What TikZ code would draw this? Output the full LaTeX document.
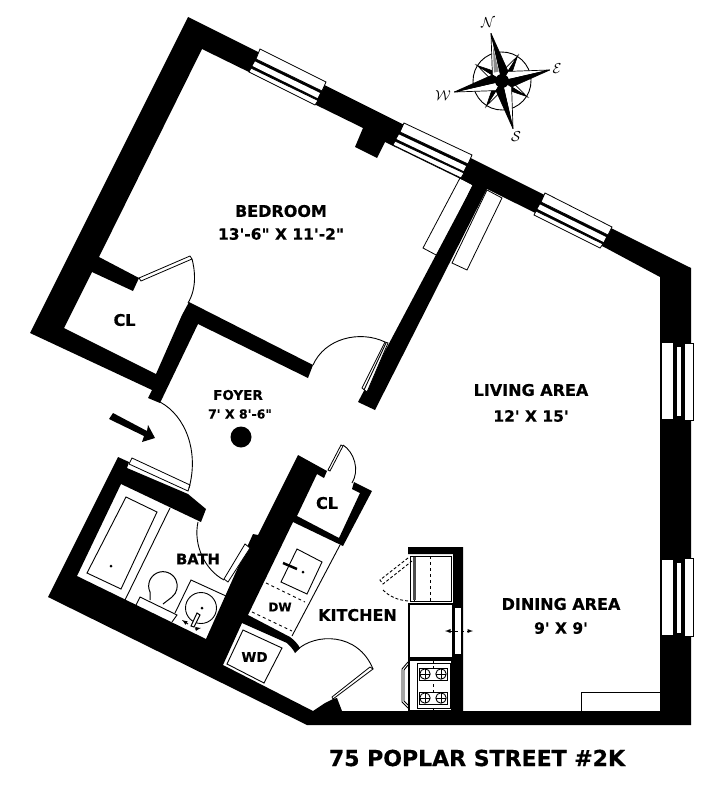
\documentclass[tikz,border=0pt]{standalone}
\usepackage{fontspec}
\usepackage{tikz}
\usetikzlibrary{calc,arrows,positioning}
\newfontfamily\planfont{DejaVu Sans}[BoldFeatures={FakeBold=0.5}]
\tikzset{
	wallblack/.style={fill=black, draw=none},
	glass/.style={fill=white, draw=black, line width=0.8pt},
	pane/.style={fill=white, draw=none},
	plain/.style={draw=black, line width=0.9pt},
	swing/.style={draw=black, line width=0.9pt},
	fixture/.style={draw=black, fill=white, line width=1pt},
	roomname/.style={font=\planfont\bfseries\fontsize{16}{18}\selectfont, inner sep=0pt},
	roomsize/.style={font=\planfont\bfseries\fontsize{15.5}{18}\selectfont, inner sep=0pt},
	smallname/.style={font=\planfont\bfseries\fontsize{13.5}{15}\selectfont, inner sep=0pt},
	compassletter/.style={font=\fontsize{15}{17}\selectfont, inner sep=0pt}
}

\begin{document}
\begin{tikzpicture}[x=1pt, y=-1pt]
	\useasboundingbox (0, 0) rectangle (722, 800);

	%%closet doors behind the bedroom wall%%
	\draw[glass] (460, 178) -- (423, 248) -- (438, 256) -- (473, 185) -- cycle;
	\draw[glass] (487, 190) -- (502, 198) -- (467, 270) -- (452, 263) -- cycle;

	%%walls%%
	\fill[wallblack] (188, 17) -- (691, 268) -- (691, 725) -- (307, 725) -- (48, 597)
		-- (118, 457) -- (129, 462) -- (127, 468) -- (188, 494) -- (206, 509) -- (201, 522) -- (121, 484)
		-- (77, 576) -- (206, 639) -- (248, 545) -- (253, 534) -- (258, 535) -- (298, 455)
		-- (327, 471) -- (324, 478) -- (317, 474) -- (297, 516) -- (339, 538) -- (360, 493)
		-- (352, 489) -- (354, 482) -- (372, 491) -- (343, 546) -- (293, 522) -- (248, 615)
		-- (290, 637) .. controls (294, 640) and (298, 644) .. (300, 648) -- (295, 653)
		.. controls (293, 649) and (290, 646) .. (287, 643) -- (242, 623) -- (223, 665)
		-- (313, 711) -- (325, 703) -- (333, 699) -- (337, 698) -- (342, 711) -- (660, 711)
		-- (660, 277) -- (604, 247) -- (487, 189) -- (375, 410) -- (358, 402) -- (473, 185)
		-- (385, 142) -- (377, 158) -- (355, 147) -- (363, 128) -- (202, 49) -- (99, 257)
		-- (139, 278) -- (133, 291) -- (92, 272) -- (64, 328) -- (156, 374) -- (182, 315)
		-- (189, 302) -- (313, 365) -- (308, 378) -- (198, 324) -- (160, 403) -- (148, 398)
		-- (152, 390) -- (30, 333) -- cycle;

	%%kitchen wall%%
	\fill[wallblack] (408, 547) -- (463, 547) -- (463, 712) -- (453, 712) -- (453, 554) -- (408, 554) -- cycle;
	\fill[white] (455, 608) rectangle (461, 654);

	%%windows top%%
	\draw[glass] (260, 49) -- (326, 82) -- (322, 91) -- (256, 59) -- cycle;
	\fill[pane] (255, 61.5) -- (320, 93) -- (317.5, 98) -- (252.5, 66) -- cycle;
	\draw[glass] (251, 68) -- (318, 100.5) -- (315, 105) -- (249, 72) -- cycle;

	\draw[glass] (404, 123) -- (472, 155) -- (468, 164) -- (400, 132) -- cycle;
	\fill[pane] (399, 134.5) -- (466, 166) -- (463.5, 171) -- (396.5, 139) -- cycle;
	\draw[glass] (395, 141) -- (464, 173) -- (461, 178) -- (393, 145) -- cycle;

	\draw[glass] (545, 193) -- (612, 227) -- (608, 235) -- (541, 202) -- cycle;
	\fill[pane] (540, 204.5) -- (606, 237) -- (603.5, 242) -- (537.5, 209) -- cycle;
	\draw[glass] (536, 211) -- (603, 244) -- (600, 248) -- (534, 215) -- cycle;

	%%windows right%%
	\fill[white] (661.5, 343) rectangle (673, 419);
	\fill[white] (677, 347) rectangle (681, 416);
	\draw[glass] (684, 343) rectangle (693, 420);

	\fill[white] (661.5, 560) rectangle (673, 635);
	\fill[white] (677, 563) rectangle (681, 633);
	\draw[glass] (684, 558) rectangle (693, 636);

	%%radiator%%
	\draw[plain] (581, 711) -- (581, 692) -- (660, 692);

	%%bedroom closet door%%
	\draw[glass] (139, 278) -- (190, 256) -- (192, 259) -- (141, 281) -- cycle;
	\draw[swing] (192, 259) .. controls (195, 270) and (197, 288) .. (188, 303);

	%%bedroom door%%
	\draw[glass] (385, 342) -- (388, 343) -- (367, 392) -- (362, 388) -- cycle;
	\draw[plain] (386, 343) -- (364, 390);
	\draw[swing] (313, 365) .. controls (325, 338) and (360, 330) .. (385, 342);

	%%entry door and arrow%%
	\draw[glass] (132, 458) -- (190, 485) -- (188, 491) -- (129, 464) -- cycle;
	\draw[swing] (189, 488) .. controls (199, 452) and (186, 416) .. (160, 402);
	\fill[black] (113, 413) -- (147, 431) -- (148, 425) -- (155, 438) -- (142, 442) -- (144, 436) -- (109, 419) -- cycle;
	\fill[black] (241, 437) circle (10.5);

	%%bath%%
	\draw[glass] (245, 544) -- (250, 548) -- (228, 582) -- (224, 579) -- cycle;
	\draw[swing] (198, 522) .. controls (193, 545) and (205, 570) .. (224, 580);
	\draw[plain] (126, 497) -- (157, 512) -- (121, 589) -- (87, 573) -- cycle;
	\fill[black] (111, 566) circle (1.5);
	\draw[plain] (170, 508) -- (125, 600);
	\draw[plain] (136, 605) -- (140, 597) -- (177, 615) -- (172, 622);
	\draw[plain, line width=1pt] (150, 600) -- (150, 592) arc[start angle=155, end angle=411, radius=14.3] -- (163, 604);
	\draw[plain] (175, 613) -- (191, 580) -- (226, 596);
	\draw[plain] (201, 608) circle (15.5);
	\fill[black] (202, 608) circle (1.5);
	\draw[fixture] (197, 613) -- (200, 615) -- (194, 627) -- (191, 626) -- cycle;
	\draw[plain, -latex] (188, 624) -- (182, 620);
	\draw[plain, -latex] (195, 629) -- (201, 628);

	%%laundry and counter%%
	\draw[plain] (243, 630) -- (282, 648) -- (264, 683) -- (227, 664) -- cycle;
	\draw[plain] (340, 545) -- (292, 636);
	\draw[plain] (297, 549) -- (322, 562) -- (307, 594) -- (281, 582) -- cycle;
	\draw[line width=2.5pt] (283, 563) -- (297, 569);
	\fill[black] (303, 572) circle (1.5);
	\draw[plain, dashed] (266, 583) -- (305, 602);
	\draw[plain, dashed] (252, 612) -- (292, 631);

	%%kitchen door and closet door%%
	\draw[glass] (370, 667) -- (373, 669) -- (333, 699) -- (332, 697) -- cycle;
	\draw[swing] (297, 650) .. controls (315, 633) and (358, 632) .. (373, 669);
	\draw[glass] (341, 445) -- (343, 446) -- (330, 471) -- (328, 470) -- cycle;
	\draw[swing] (343, 445) .. controls (354, 452) and (360, 470) .. (352, 483);

	%%fridge%%
	\draw[plain] (414, 556) rectangle (451, 601);
	\draw[plain] (410, 556) rectangle (414, 601);
	\fill[black!70] (413, 557) rectangle (416, 600);
	\draw[plain, dashed] (430, 556) -- (430, 603);
	\draw[plain, densely dashed] (408, 558) -- (380, 580) -- (383, 584) -- (412, 561);
	\draw[plain, densely dashed] (383, 590) .. controls (390, 597) and (398, 600) .. (408, 601);

	%%counter and stove%%
	\draw[plain, line width=1.3pt] (409, 604) rectangle (453, 658);
	\draw[plain, line width=1.3pt] (409, 660) rectangle (452, 711);
	\draw[plain] (417, 663) rectangle (450, 708);
	\draw[plain, dashed] (433, 660) -- (433, 711);
	\draw[fixture] (419, 668) rectangle (447, 680);
	\draw[fixture] (419, 692) rectangle (447, 704);
	\foreach \bx/\by in {425/674, 441/674, 425/698, 441/698} {
		\draw[plain] (\bx, \by) circle (5.2);
		\draw[plain] (\bx-5, \by) -- (\bx+5, \by);
		\draw[plain] (\bx, \by-5) -- (\bx, \by+5);
	}
	\draw[plain] (408, 662) -- (402, 669) -- (402, 702) -- (408, 708);
	\draw[plain] (408, 665) -- (404, 670) -- (404, 701) -- (408, 705);
	\draw[plain, dashed] (449, 631) -- (469, 631);
	\draw[plain, -latex] (450, 631) -- (445, 631);
	\draw[plain, -latex] (468, 631) -- (473, 631);

	%%compass%%
	\begin{scope}[shift={(502, 81)}, x=1pt, y=1pt, rotate=13]
		\draw[plain, fill=white] (0, 0) circle (29);
		\foreach \ang in {45, 135, 225, 315} {
			\begin{scope}[rotate=\ang]
				\draw[fill=white, line width=0.7pt] (0, 0) -- (29, 0) -- (8, 5) -- cycle;
				\draw[fill=black, line width=0.7pt] (0, 0) -- (29, 0) -- (8, -5) -- cycle;
			\end{scope}
		}
		\foreach \ang in {0, 90, 180, 270} {
			\begin{scope}[rotate=\ang]
				\draw[fill=white, line width=0.7pt] (0, 0) -- (49, 0) -- (8, 8) -- cycle;
				\draw[fill=black, line width=0.7pt] (0, 0) -- (49, 0) -- (8, -8) -- cycle;
			\end{scope}
		}
		\fill[black!45] (-1, 10) -- (-1, 36) -- (-6, 10) -- cycle;
		\fill[black] (0, 0) circle (7);
	\end{scope}
	\node[compassletter] (north) at (488, 23) {$\mathcal{N}$};
	\node[compassletter] (east) at (557, 69) {$\mathcal{E}$};
	\node[compassletter] (south) at (516, 137) {$\mathcal{S}$};
	\node[compassletter] (west) at (443, 96) {$\mathcal{W}$};

	%%labels%%
	\node[roomname] (bedroom) at (281, 211) {BEDROOM};
	\node[roomsize] (bedroomsize) at (281, 234) {13'-6" X 11'-2"};
	\node[roomname] (closeta) at (124.5, 320) {CL};
	\node[smallname] (foyer) at (238, 395) {FOYER};
	\node[smallname, font=\planfont\bfseries\fontsize{12.5}{15}\selectfont] (foyersize) at (240, 414) {7' X 8'-6"};
	\node[roomname] (living) at (531, 390) {LIVING AREA};
	\node[roomsize] (livingsize) at (531, 416) {12' X 15'};
	\node[roomname] (dining) at (561, 604) {DINING AREA};
	\node[roomsize] (diningsize) at (561, 628) {9' X 9'};
	\node[roomname] (kitchen) at (357.5, 615) {KITCHEN};
	\node[roomname] (closetb) at (327, 503) {CL};
	\node[roomname, font=\planfont\bfseries\fontsize{14.7}{16}\selectfont] (bath) at (198, 559) {BATH};
	\node[smallname] (washer) at (254.5, 657) {WD};
	\node[smallname, font=\planfont\bfseries\fontsize{12}{14}\selectfont] (dishwasher) at (280, 607) {DW};
	\node[roomname, font=\planfont\bfseries\fontsize{22}{24}\selectfont] (title) at (477, 758) {75 POPLAR STREET \#2K};
\end{tikzpicture}
\end{document}
